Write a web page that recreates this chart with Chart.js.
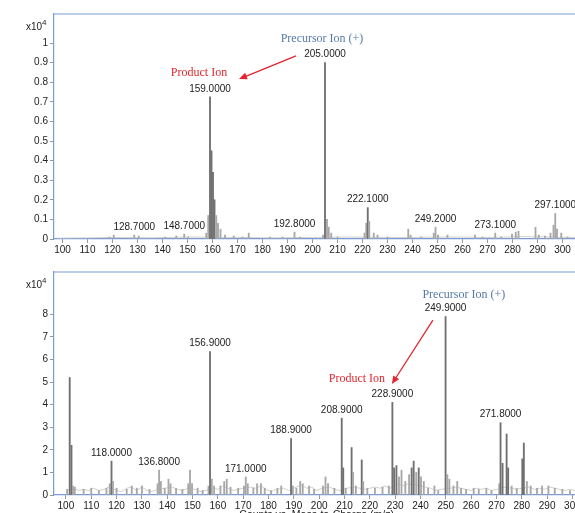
<!DOCTYPE html>
<html>
<head>
<meta charset="utf-8">
<script src="https://cdn.jsdelivr.net/npm/chart.js@4.4.0/dist/chart.umd.min.js"></script>
<style>
  html, body { margin: 0; padding: 0; background: #fff; overflow: hidden; width: 575px; height: 513px; }
  .panel { position: absolute; left: 0; }
  #p1 { top: 0; }
  #p2 { top: 258px; }
</style>
</head>
<body>
<div class="panel" id="p1"><canvas id="c1" width="600" height="258"></canvas></div>
<div class="panel" id="p2"><canvas id="c2" width="600" height="275"></canvas></div>
<script>
// tick labels
const xTicks = [100, 110, 120, 130, 140, 150, 160, 170, 180, 190, 200, 210, 220, 230, 240, 250, 260, 270, 280, 290, 300];
const topYTicks = [0, 0.1, 0.2, 0.3, 0.4, 0.5, 0.6, 0.7, 0.8, 0.9, 1];
const botYTicks = [0, 1, 2, 3, 4, 5, 6, 7, 8];

// top spectrum (x10^4 counts)
const topMz = [118.7, 120.5, 128.7, 130.5, 141, 145.5, 148.7, 150.3, 157.5, 158.3, 159.0, 159.6, 160.2, 160.8, 161.5, 162.2, 163.2, 165, 168.5, 172, 174.5, 183, 188, 192.8, 195, 204.2, 205.0, 205.8, 206.5, 207.5, 210, 220.8, 221.5, 222.1, 222.7, 224.5, 226, 230, 238.3, 239.2, 243.5, 248.5, 249.2, 250.2, 254, 265, 268, 273.1, 275.5, 279.8, 281.3, 282.4, 289.2, 290.5, 293, 295.2, 296.4, 297.1, 297.8, 299.5, 302];
const topInt = [0.01, 0.02, 0.02, 0.015, 0.01, 0.015, 0.025, 0.01, 0.03, 0.12, 0.725, 0.45, 0.34, 0.2, 0.12, 0.08, 0.05, 0.02, 0.015, 0.01, 0.03, 0.01, 0.01, 0.035, 0.01, 0.02, 0.90, 0.1, 0.06, 0.03, 0.01, 0.03, 0.08, 0.16, 0.09, 0.03, 0.02, 0.01, 0.05, 0.02, 0.01, 0.03, 0.06, 0.02, 0.02, 0.02, 0.01, 0.03, 0.01, 0.025, 0.035, 0.04, 0.06, 0.02, 0.015, 0.03, 0.07, 0.13, 0.05, 0.03, 0.01];
const topBaseMz = [98, 110, 120, 135, 150, 170, 185, 200, 215, 235, 255, 270, 285, 305];
const topBaseInt = [0.004, 0.006, 0.008, 0.006, 0.01, 0.008, 0.006, 0.008, 0.01, 0.008, 0.01, 0.008, 0.012, 0.008];
const topLabels = [128.7, 148.7, 159.0, 192.8, 205.0, 222.1, 249.2, 273.1, 297.1];

// bottom spectrum (x10^4 counts)
const botMz = [100.5, 101.5, 102.2, 102.8, 103.5, 107, 110, 113, 116, 117.3, 118.0, 118.6, 120, 124, 126, 128, 130, 133, 136.2, 136.8, 137.5, 139, 140.5, 141.3, 143.5, 146, 148.3, 149.0, 149.8, 152, 154, 156.3, 156.9, 157.6, 158.5, 161, 162.5, 163.5, 165, 168, 170.3, 171.0, 171.8, 174, 175.5, 177, 178.5, 181, 183.5, 185, 188.9, 189.6, 191, 192.5, 193.5, 196, 198, 201.5, 202.5, 203.5, 206, 208.9, 209.5, 210.5, 212.8, 213.4, 214.5, 216.8, 217.4, 219, 222, 225, 227.5, 228.9, 229.6, 230.5, 231.5, 232.5, 234, 235.5, 236.5, 237.3, 238.3, 239.3, 240.2, 241.3, 243, 245.5, 247, 249.9, 250.6, 251.4, 253, 254.5, 256, 258, 261, 263, 266, 268, 271.1, 271.6, 272.4, 274.0, 274.6, 276, 278, 280.2, 280.8, 282, 283.5, 286, 288, 290.5, 293, 296, 299];
const botInt = [0.25, 5.2, 2.2, 0.4, 0.35, 0.25, 0.3, 0.2, 0.3, 0.5, 1.5, 0.6, 0.3, 0.25, 0.4, 0.3, 0.4, 0.25, 0.5, 1.1, 0.6, 0.3, 0.7, 0.5, 0.3, 0.25, 0.5, 1.1, 0.5, 0.3, 0.2, 0.4, 6.35, 0.7, 0.4, 0.4, 0.6, 0.7, 0.35, 0.3, 0.4, 0.8, 0.5, 0.3, 0.5, 0.5, 0.3, 0.2, 0.3, 0.4, 2.5, 0.4, 0.3, 0.6, 0.5, 0.4, 0.25, 0.4, 0.8, 0.5, 0.3, 3.4, 1.2, 0.3, 2.1, 1.0, 0.4, 1.55, 0.6, 0.3, 0.3, 0.35, 0.4, 4.1, 1.2, 1.3, 0.8, 1.1, 0.6, 0.9, 1.2, 1.5, 1.0, 1.2, 0.8, 0.6, 0.3, 0.4, 0.2, 7.9, 0.9, 0.7, 0.4, 0.6, 0.3, 0.25, 0.3, 0.25, 0.3, 0.2, 0.5, 3.2, 1.4, 2.7, 1.2, 0.4, 0.3, 1.6, 2.3, 0.6, 0.4, 0.3, 0.4, 0.4, 0.3, 0.25, 0.2];
const botBaseMz = [100, 103, 105, 107, 109, 111, 113, 115, 117, 120, 122, 124, 126, 128, 130, 132, 134, 136, 139, 142, 144, 146, 148, 151, 153, 155, 158, 160, 162, 164, 166, 168, 170, 173, 175, 177, 179, 181, 183, 186, 188, 191, 193, 195, 197, 199, 201, 204, 206, 208, 211, 214, 216, 218, 220, 222, 224, 226, 228, 231, 233, 235, 238, 240, 242, 244, 246, 248, 252, 254, 256, 258, 260, 262, 264, 266, 268, 270, 273, 276, 278, 280, 283, 285, 287, 289, 291, 293, 295, 297, 299, 301];
const botBaseInt = [0.15, 0.3, 0.2, 0.25, 0.2, 0.3, 0.2, 0.25, 0.35, 0.2, 0.15, 0.3, 0.35, 0.2, 0.35, 0.2, 0.15, 0.25, 0.3, 0.35, 0.25, 0.2, 0.3, 0.25, 0.15, 0.2, 0.3, 0.25, 0.4, 0.3, 0.2, 0.25, 0.3, 0.35, 0.3, 0.4, 0.25, 0.15, 0.25, 0.3, 0.2, 0.35, 0.45, 0.3, 0.35, 0.2, 0.3, 0.35, 0.25, 0.2, 0.3, 0.35, 0.3, 0.25, 0.3, 0.35, 0.3, 0.4, 0.3, 0.5, 0.4, 0.5, 0.45, 0.4, 0.35, 0.3, 0.2, 0.25, 0.3, 0.35, 0.3, 0.25, 0.2, 0.3, 0.25, 0.3, 0.2, 0.25, 0.35, 0.3, 0.25, 0.3, 0.35, 0.25, 0.3, 0.25, 0.35, 0.3, 0.25, 0.2, 0.25, 0.2];
const botLabels = [118.0, 136.8, 156.9, 171.0, 188.9, 208.9, 228.9, 249.9, 271.6];
const botLabelText = ['118.0000', '136.8000', '156.9000', '171.0000', '188.9000', '208.9000', '228.9000', '249.9000', '271.8000'];

const FONT = "'Liberation Sans', Arial, sans-serif";
const SERIF = "'Liberation Serif', 'Times New Roman', serif";
const BLUE = '#7b9bd6';

function spectrumPlugin(cfg) {
  return {
    id: 'spectrum',
    afterDraw(chart) {
      const ctx = chart.ctx;
      const xs = chart.scales.x, ys = chart.scales.y;
      const a = chart.chartArea;
      ctx.save();
      // top frame line
      ctx.strokeStyle = BLUE;
      ctx.lineWidth = 1.2;
      ctx.beginPath();
      ctx.moveTo(a.left, a.top);
      ctx.lineTo(a.right, a.top);
      ctx.stroke();

      // x10^4
      ctx.fillStyle = '#222';
      ctx.textBaseline = 'middle';
      ctx.textAlign = 'left';
      ctx.font = '10px ' + FONT;
      ctx.fillText('x10', a.left - 28, a.top + 13);
      ctx.font = '8px ' + FONT;
      ctx.fillText('4', a.left - 12, a.top + 9);

      // peak labels
      ctx.font = '10px ' + FONT;
      ctx.textAlign = 'center';
      cfg.labels.forEach((mz, i) => {
        const k = cfg.mz.indexOf(mz);
        const px = xs.getPixelForValue(mz);
        const py = ys.getPixelForValue(cfg.int[k]) - 8;
        const txt = cfg.labelText ? cfg.labelText[i] : mz.toFixed(4);
        ctx.fillText(txt, px, py);
      });

      // annotations
      cfg.notes.forEach(n => {
        ctx.font = n.font;
        ctx.fillStyle = n.color;
        ctx.fillText(n.text, xs.getPixelForValue(n.x), ys.getPixelForValue(n.y));
      });

      // arrow
      const ar = cfg.arrow;
      const x1 = xs.getPixelForValue(ar.x1), y1 = ys.getPixelForValue(ar.y1);
      const x2 = xs.getPixelForValue(ar.x2), y2 = ys.getPixelForValue(ar.y2);
      const ang = Math.atan2(y2 - y1, x2 - x1);
      ctx.strokeStyle = '#e3262f';
      ctx.fillStyle = '#e3262f';
      ctx.lineWidth = 1.3;
      ctx.beginPath();
      ctx.moveTo(x1, y1);
      ctx.lineTo(x2 - 6 * Math.cos(ang), y2 - 6 * Math.sin(ang));
      ctx.stroke();
      ctx.beginPath();
      ctx.moveTo(x2, y2);
      ctx.lineTo(x2 - 8 * Math.cos(ang) + 3.5 * Math.sin(ang), y2 - 8 * Math.sin(ang) - 3.5 * Math.cos(ang));
      ctx.lineTo(x2 - 8 * Math.cos(ang) - 3.5 * Math.sin(ang), y2 - 8 * Math.sin(ang) + 3.5 * Math.cos(ang));
      ctx.closePath();
      ctx.fill();

      // axis title (cut off at the bottom edge, as in the source)
      if (cfg.title) {
        ctx.font = '10.5px ' + FONT;
        ctx.fillStyle = '#222';
        ctx.textAlign = 'center';
        ctx.textBaseline = 'alphabetic';
        ctx.fillText(cfg.title, xs.getPixelForValue(cfg.titleX), a.bottom + 23);
      }
      ctx.restore();
    }
  };
}

function makeChart(id, cfg) {
  const peaks = cfg.mz.map((x, i) => ({ x: x, y: cfg.int[i] }));
  const base = cfg.baseMz.map((x, i) => ({ x: x, y: cfg.baseInt[i] }));
  return new Chart(document.getElementById(id), {
    type: 'bar',
    data: {
      datasets: [
        {
          type: 'line',
          data: base,
          borderColor: '#c4c4c4',
          borderWidth: 0.8,
          pointRadius: 0,
          tension: 0,
          order: 2
        },
        {
          data: peaks,
          backgroundColor: c => (c.raw && c.raw.y > cfg.yMax * 0.12) ? '#707070' : '#a8a8a8',
          barThickness: 1.2,
          order: 1
        }
      ]
    },
    options: {
      responsive: false,
      animation: false,
      devicePixelRatio: 1,
      layout: { padding: { top: 14, right: 25, left: 0, bottom: 0 } },
      plugins: { legend: { display: false }, tooltip: { enabled: false } },
      scales: {
        x: {
          type: 'linear',
          min: cfg.xMin,
          max: cfg.xMax,
          offset: false,
          afterBuildTicks: s => { s.ticks = xTicks.map(v => ({ value: v })); },
          afterFit: s => { s.height = cfg.xHeight; },
          grid: { drawOnChartArea: false, offset: false, tickLength: 4, color: '#999' },
          border: { color: BLUE, width: 1.2 },
          ticks: { font: { size: 10, family: FONT }, color: '#222', padding: 1, maxRotation: 0, autoSkip: false }
        },
        y: {
          min: 0,
          max: cfg.yMax,
          afterBuildTicks: s => { s.ticks = cfg.yTicks.map(v => ({ value: v })); },
          afterFit: s => { s.width = 54; },
          grid: { drawOnChartArea: false, tickLength: 4, color: '#999' },
          border: { color: BLUE, width: 1.2 },
          ticks: { font: { size: 10, family: FONT }, color: '#222', padding: 2, callback: v => String(v) }
        }
      }
    },
    plugins: [spectrumPlugin(cfg)]
  });
}

makeChart('c1', {
  mz: topMz, int: topInt, baseMz: topBaseMz, baseInt: topBaseInt,
  labels: topLabels,
  xMin: 96.6, xMax: 305, yMax: 1.148, yTicks: topYTicks, xHeight: 19,
  notes: [
    { text: 'Precursor Ion (+)', x: 203.8, y: 1.02, color: '#557aa8', font: '12px ' + SERIF },
    { text: 'Product Ion', x: 154.6, y: 0.847, color: '#e3262f', font: '12px ' + SERIF }
  ],
  arrow: { x1: 193.4, y1: 0.934, x2: 170.6, y2: 0.816 }
});

makeChart('c2', {
  mz: botMz, int: botInt, baseMz: botBaseMz, baseInt: botBaseInt,
  labels: botLabels, labelText: botLabelText,
  xMin: 95.3, xMax: 301, yMax: 9.87, yTicks: botYTicks, xHeight: 38,
  notes: [
    { text: 'Precursor Ion (+)', x: 257.1, y: 8.85, color: '#557aa8', font: '12px ' + SERIF },
    { text: 'Product Ion', x: 214.9, y: 5.13, color: '#e3262f', font: '12px ' + SERIF }
  ],
  arrow: { x1: 244.9, y1: 7.74, x2: 228.7, y2: 4.91 },
  title: 'Counts vs. Mass-to-Charge (m/z)', titleX: 199
});
</script>
</body>
</html>
